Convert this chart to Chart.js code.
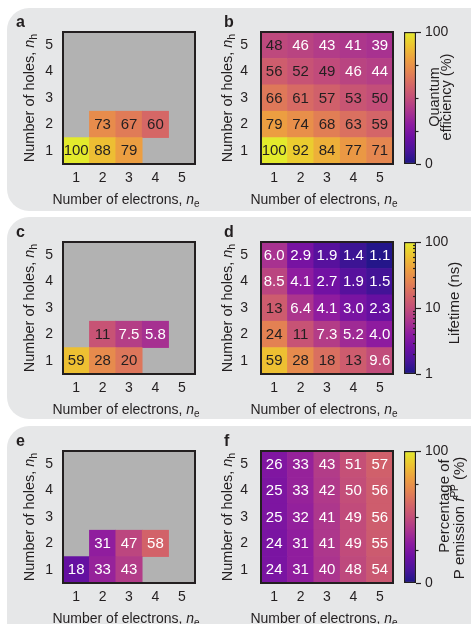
<!DOCTYPE html>
<html>
<head>
<meta charset="utf-8">
<script src="https://cdn.jsdelivr.net/npm/chart.js@4.4.1/dist/chart.umd.min.js"></script>
<style>
  html, body { margin: 0; padding: 0; background: #fff; overflow: hidden; }
  body { width: 471px; height: 624px; position: relative; }
  .panel { position: absolute; left: 7px; width: 490px; background: #e6e7e8; border-radius: 22px; }
  canvas { position: absolute; }
</style>
</head>
<body>
<div class="panel" style="top:8px;height:203px"></div>
<div class="panel" style="top:217px;height:202px"></div>
<div class="panel" style="top:426px;height:230px"></div>
<script>
const electrons = ['1', '2', '3', '4', '5']
const holes = [1, 2, 3, 4, 5]

// each table: rows from n_h = 1 (bottom) up to n_h = 5 (top)
const qeMeasured = [
  [100, 88, 79, null, null],
  [null, 73, 67, 60, null],
  [null, null, null, null, null],
  [null, null, null, null, null],
  [null, null, null, null, null],
]
const qeModel = [
  [100, 92, 84, 77, 71],
  [79, 74, 68, 63, 59],
  [66, 61, 57, 53, 50],
  [56, 52, 49, 46, 44],
  [48, 46, 43, 41, 39],
]
const lifetimeMeasured = [
  [59, 28, 20, null, null],
  [null, 11, 7.5, 5.8, null],
  [null, null, null, null, null],
  [null, null, null, null, null],
  [null, null, null, null, null],
]
const lifetimeModel = [
  [59, 28, 18, 13, 9.6],
  [24, 11, 7.3, 5.2, 4.0],
  [13, 6.4, 4.1, 3.0, 2.3],
  [8.5, 4.1, 2.7, 1.9, 1.5],
  [6.0, 2.9, 1.9, 1.4, 1.1],
]
const ppMeasured = [
  [18, 33, 43, null, null],
  [null, 31, 47, 58, null],
  [null, null, null, null, null],
  [null, null, null, null, null],
  [null, null, null, null, null],
]
const ppModel = [
  [24, 31, 40, 48, 54],
  [24, 31, 41, 49, 55],
  [25, 32, 41, 49, 56],
  [25, 33, 42, 50, 56],
  [26, 33, 43, 51, 57],
]
const percentTicks = [0, 25, 50, 75, 100]
const percentLabels = [0, 100]
const lifetimeLabels = [1, 10, 100]

const FONT = '"Liberation Sans", Arial, Helvetica, sans-serif'
const INK = '#231f20'
const PLASMA = ['#0d0887', '#41049d', '#6a00a8', '#8f0da4', '#b12a90', '#cc4778',
  '#e16462', '#f2844b', '#fca636', '#fcce25', '#f0f921']
const PLOT = 132
const MUTE = 0.12 // the print looks a little washed out

function hexRgb(h) {
  return [1, 3, 5].map(i => parseInt(h.slice(i, i + 2), 16))
}

const mutedStops = PLASMA.map(h => {
  const c = hexRgb(h).map(v => Math.round(v * (1 - MUTE) + 128 * MUTE))
  return `rgb(${c[0]},${c[1]},${c[2]})`
})

function plasma(t) {
  t = Math.min(1, Math.max(0, t))
  const s = t * (PLASMA.length - 1)
  const i = Math.min(Math.floor(s), PLASMA.length - 2)
  const f = s - i
  const a = hexRgb(PLASMA[i])
  const b = hexRgb(PLASMA[i + 1])
  const c = a.map((v, k) => {
    const raw = v + (b[k] - v) * f
    return Math.round(raw * (1 - MUTE) + 128 * MUTE)
  })
  return `rgb(${c[0]},${c[1]},${c[2]})`
}

const linColor = v => plasma(v / 100)
const logColor = v => plasma(Math.log10(v) / 2)
const fmt = v => (v < 10 ? v.toFixed(1) : String(Math.round(v)))

function makeCanvas(x, y, w, h) {
  const c = document.createElement('canvas')
  c.width = w
  c.height = h
  Object.assign(c.style, { left: x + 'px', top: y + 'px', width: w + 'px', height: h + 'px' })
  document.body.appendChild(c)
  return c
}

// draw a run of text pieces (normal / italic / sub / superscript), centred on (x, y)
function drawRich(ctx, parts, x, y, rot) {
  ctx.save()
  ctx.translate(x, y)
  ctx.rotate(rot)
  ctx.textAlign = 'left'
  ctx.textBaseline = 'alphabetic'
  ctx.fillStyle = INK
  let w = 0
  parts.forEach(p => { ctx.font = p.font; w += ctx.measureText(p.t).width })
  let px = -w / 2
  parts.forEach(p => {
    ctx.font = p.font
    ctx.fillText(p.t, px, p.dy || 0)
    px += ctx.measureText(p.t).width
  })
  ctx.restore()
}

const axisLabel = (text, sub, size) => [
  { t: text, font: `${size}px ${FONT}` },
  { t: 'n', font: `italic ${size}px ${FONT}` },
  { t: sub, font: `${size - 4}px ${FONT}`, dy: 3 },
]

function heatmap({ side, top, values, colorOf, darkFrom, letter, partial }) {
  const left = side === 'left'
  const cx = left ? 6 : 212
  const cw = left ? 196 : 188
  const plotL = left ? 63 : 261
  const plotR = plotL + PLOT
  const canvas = makeCanvas(cx, top - 24, cw, PLOT + 24 + 46)

  const datasets = holes.map((h, i) => ({
    data: values[i].map(v => (v == null ? null : [h - 0.5, h + 0.5])),
    backgroundColor: values[i].map(v => (v == null ? 'rgba(0,0,0,0)' : colorOf(v))),
    borderWidth: 0,
    barPercentage: 1,
    categoryPercentage: 1,
    grouped: false,
  }))

  const plugin = {
    id: 'heat',
    beforeDatasetsDraw(chart) {
      if (!partial) return
      const { ctx, chartArea: a } = chart
      ctx.save()
      ctx.fillStyle = '#b2b2b2'
      ctx.fillRect(a.left, a.top, a.right - a.left, a.bottom - a.top)
      ctx.restore()
    },
    afterDatasetsDraw(chart) {
      const { ctx, chartArea: a } = chart
      ctx.save()
      ctx.font = `15px ${FONT}`
      ctx.textAlign = 'center'
      ctx.textBaseline = 'middle'
      datasets.forEach((ds, i) => {
        chart.getDatasetMeta(i).data.forEach((el, j) => {
          const v = values[i][j]
          if (v == null) return
          const { x, y, base } = el.getProps(['x', 'y', 'base'], true)
          ctx.fillStyle = v >= darkFrom ? INK : '#ffffff'
          ctx.fillText(fmt(v), x, (y + base) / 2 + 0.5)
        })
      })
      ctx.strokeStyle = INK
      ctx.lineWidth = 2
      ctx.strokeRect(a.left, a.top, a.right - a.left, a.bottom - a.top)
      ctx.restore()
    },
    afterDraw(chart) {
      const { ctx, chartArea: a } = chart
      const midX = (a.left + a.right) / 2
      const midY = (a.top + a.bottom) / 2
      drawRich(ctx, axisLabel('Number of electrons, ', 'e', 14), midX - 3, a.bottom + 40, 0)
      drawRich(ctx, axisLabel('Number of holes, ', 'h', 14.5), a.left - 29, midY, -Math.PI / 2)
      ctx.save()
      ctx.font = `bold 16px ${FONT}`
      ctx.fillStyle = INK
      ctx.textBaseline = 'alphabetic'
      ctx.fillText(letter, left ? 10 : 12, 19)
      ctx.restore()
    },
  }

  const tickFont = { family: FONT, size: 14 }
  new Chart(canvas, {
    type: 'bar',
    data: { labels: electrons, datasets },
    options: {
      responsive: false,
      animation: false,
      layout: { padding: { top: 24, right: cx + cw - plotR, left: 0, bottom: 0 } },
      plugins: { legend: { display: false }, tooltip: { enabled: false } },
      scales: {
        x: {
          grid: { display: false, drawTicks: false },
          border: { display: false },
          ticks: { padding: 6, color: INK, font: tickFont },
          afterFit: s => { s.height = 46 },
        },
        y: {
          type: 'linear',
          min: 0.5,
          max: 5.5,
          grid: { display: false, drawTicks: false },
          border: { display: false },
          ticks: { padding: left ? 10 : 13, color: INK, font: tickFont },
          afterBuildTicks: s => { s.ticks = holes.map(v => ({ value: v })) },
          afterFit: s => { s.width = plotL - cx },
        },
      },
    },
    plugins: [plugin],
  })
}

function colorbar({ top, log, labels, titles }) {
  const cx = 396
  const cw = 75
  const canvas = makeCanvas(cx, top - 24, cw, PLOT + 24 + 46)
  const min = log ? 1 : 0
  const max = 100

  const plugin = {
    id: 'cbar',
    afterDatasetsDraw(chart) {
      const { ctx, chartArea: a } = chart
      const scale = chart.scales.y
      ctx.save()
      ctx.strokeStyle = INK
      ctx.lineWidth = 1.2
      scale.ticks.forEach(t => {
        const y = Math.round(scale.getPixelForValue(t.value)) + 0.5
        const major = labels.includes(t.value)
        let x0 = a.right, x1 = a.right + 5
        if (!major) {
          if (log) { x0 = a.right - 3; x1 = a.right } else { x1 = a.right + 2.5 }
        }
        ctx.beginPath()
        ctx.moveTo(x0, y)
        ctx.lineTo(x1, y)
        ctx.stroke()
      })
      ctx.restore()
      const midY = (a.top + a.bottom) / 2
      titles.forEach(line => {
        drawRich(ctx, line.parts, a.right + line.dx, midY + line.dy, -Math.PI / 2)
      })
    },
  }

  new Chart(canvas, {
    type: 'bar',
    data: {
      labels: [''],
      datasets: [{
        data: [[min, max]],
        backgroundColor: c => {
          const { chartArea, ctx } = c.chart
          if (!chartArea) return mutedStops[5]
          const g = ctx.createLinearGradient(0, chartArea.bottom, 0, chartArea.top)
          mutedStops.forEach((col, i) => g.addColorStop(i / (mutedStops.length - 1), col))
          return g
        },
        borderColor: INK,
        borderWidth: 1.5,
        borderSkipped: false,
        barPercentage: 1,
        categoryPercentage: 1,
      }],
    },
    options: {
      responsive: false,
      animation: false,
      layout: { padding: { top: 24, left: 404 - cx, bottom: 46, right: 0 } },
      plugins: { legend: { display: false }, tooltip: { enabled: false } },
      scales: {
        x: { display: false },
        y: {
          type: log ? 'logarithmic' : 'linear',
          position: 'right',
          min,
          max,
          grid: { display: false, drawTicks: false },
          border: { display: false },
          ticks: {
            padding: 9,
            autoSkip: false,
            color: INK,
            font: { family: FONT, size: 14 },
            callback: v => (labels.includes(v) ? String(v) : ''),
          },
          afterBuildTicks: s => { if (!log) s.ticks = percentTicks.map(v => ({ value: v })) },
          afterFit: s => { s.width = 471 - 416 },
        },
      },
    },
    plugins: [plugin],
  })
}

const title = size => t => ({ t, font: `${size}px ${FONT}` })
const T15 = title(15)
const T14 = title(14.5)

heatmap({ side: 'left', top: 32, values: qeMeasured, colorOf: linColor, darkFrom: 47, letter: 'a', partial: true })
heatmap({ side: 'right', top: 32, values: qeModel, colorOf: linColor, darkFrom: 47, letter: 'b' })
colorbar({
  top: 32, log: false, labels: percentLabels,
  titles: [
    { parts: [T14('Quantum')], dx: 22.5, dy: -1 },
    { parts: [T14('efficiency (%)')], dx: 35, dy: -1 },
  ],
})

heatmap({ side: 'left', top: 242, values: lifetimeMeasured, colorOf: logColor, darkFrom: 10, letter: 'c', partial: true })
heatmap({ side: 'right', top: 242, values: lifetimeModel, colorOf: logColor, darkFrom: 10, letter: 'd' })
colorbar({
  top: 242, log: true, labels: lifetimeLabels,
  titles: [{ parts: [T15('Lifetime (ns)')], dx: 43, dy: -5 }],
})

heatmap({ side: 'left', top: 451, values: ppMeasured, colorOf: linColor, darkFrom: Infinity, letter: 'e', partial: true })
heatmap({ side: 'right', top: 451, values: ppModel, colorOf: linColor, darkFrom: Infinity, letter: 'f' })
colorbar({
  top: 451, log: false, labels: percentLabels,
  titles: [
    { parts: [T15('Percentage of')], dx: 33, dy: -11 },
    {
      parts: [
        T15('P emission '),
        { t: 'f', font: `italic 15px ${FONT}` },
        { t: 'PP', font: `10px ${FONT}`, dy: -6 },
        T15(' (%)'),
      ],
      dx: 47.5, dy: 1,
    },
  ],
})
</script>
</body>
</html>
